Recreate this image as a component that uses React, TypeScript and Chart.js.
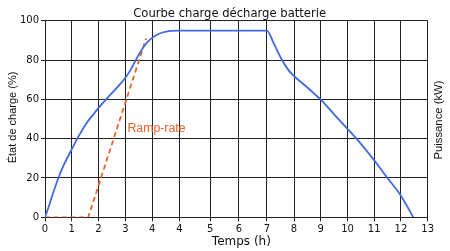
import React, { useEffect, useRef } from 'react';
import { Chart, registerables } from 'chart.js';

Chart.register(...registerables);

// ---- Texts ----
const chartTitle = 'Courbe charge décharge batterie';
const xAxisTitle = 'Temps (h)';
const yAxisTitle = 'État de charge (%)';
const y2AxisTitle = 'Puissance (kW)';
const rampLabel = 'Ramp-rate';

// ---- X axis ticks (grid positions on the axis, and their printed labels) ----
const xTickValues = [0, 0.975, 1.953, 2.943, 3.921, 4.921, 6.046, 7.094, 8.12, 9.11, 10.088, 11.066, 12.041, 13.02, 14];
const xTickLabels = ['0', '1', '2', '3', '4', '4', '5', '6', '7', '8', '9', '10', '11', '12', '13'];
const yMin = 0;
const yMax = 100;
const yStep = 20;

// ---- Series: state of charge (%) ----
const socX = [0, 0.15, 0.3, 0.49, 0.7, 0.975, 1.2, 1.5, 1.75, 1.953, 2.3, 2.6, 2.943, 3.15, 3.4, 3.65, 3.85, 4.05, 4.3, 4.6, 4.921, 8.12, 8.35, 8.65, 8.9, 9.1, 9.6, 10.088, 10.6, 11.066, 11.55, 12.041, 12.5, 13.02, 13.47];
const socY = [0, 6, 12.5, 20, 27, 34.5, 40.5, 47.5, 52, 55.5, 61, 65.5, 71, 75.5, 82, 87.5, 90.5, 92.5, 94, 94.8, 95, 95, 89, 80.5, 75, 72, 66, 59.8, 52, 45, 37.5, 29, 20.5, 11, 0];

// ---- Series: ramp-rate (dashed) ----
const rampX = [0, 1.58, 3.7];
const rampY = [0, 0, 91];

// annotation anchor (data coords)
const rampLabelX = 3.016;
const rampLabelY = 43.2;

const BLUE = '#4169E1';
const ORANGE = '#E8622C';
const GRID = '#222222';
const TEXT = '#111111';

const textPlugin = {
  id: 'customTexts',
  afterDraw(chart: any) {
    const ctx = chart.ctx as CanvasRenderingContext2D;
    const area = chart.chartArea;
    const xs = chart.scales.x;
    const ys = chart.scales.y;
    ctx.save();
    ctx.fillStyle = TEXT;

    // title
    ctx.font = '11.6px "DejaVu Sans"';
    ctx.textAlign = 'center';
    ctx.textBaseline = 'alphabetic';
    ctx.fillText(chartTitle, (area.left + area.right) / 2 - 6.7, 16.7);

    // x title
    ctx.font = '12px "DejaVu Sans"';
    ctx.fillText(xAxisTitle, (area.left + area.right) / 2 + 5, 245);

    // left y title
    ctx.save();
    ctx.translate(12.7, (area.top + area.bottom) / 2 - 1.5);
    ctx.rotate(-Math.PI / 2);
    ctx.font = '11px "Liberation Sans"';
    ctx.textAlign = 'center';
    ctx.textBaseline = 'middle';
    ctx.fillText(yAxisTitle, 0, 0);
    ctx.restore();

    // right y title
    ctx.save();
    ctx.translate(439.3, (area.top + area.bottom) / 2 + 1);
    ctx.rotate(-Math.PI / 2);
    ctx.font = '11.3px "Liberation Sans"';
    ctx.textAlign = 'center';
    ctx.textBaseline = 'middle';
    ctx.fillText(y2AxisTitle, 0, 0);
    ctx.restore();

    // ramp-rate label
    ctx.fillStyle = ORANGE;
    ctx.font = '12.3px "Liberation Sans"';
    ctx.textAlign = 'left';
    ctx.textBaseline = 'alphabetic';
    ctx.fillText(rampLabel, xs.getPixelForValue(rampLabelX), ys.getPixelForValue(rampLabelY));

    ctx.restore();
  },
};

export default function App() {
  const canvasRef = useRef<HTMLCanvasElement | null>(null);

  useEffect(() => {
    const canvas = canvasRef.current;
    if (!canvas) return;
    const tickFont = { family: 'DejaVu Sans', size: 10 };
    const chart = new Chart(canvas, {
      type: 'line',
      data: {
        datasets: [
          {
            label: 'SOC',
            data: socX.map((x, i) => ({ x, y: socY[i] })),
            borderColor: BLUE,
            borderWidth: 1.8,
            pointRadius: 0,
            fill: false,
            cubicInterpolationMode: 'monotone',
          },
          {
            label: 'Ramp',
            data: rampX.map((x, i) => ({ x, y: rampY[i] })),
            borderColor: ORANGE,
            borderWidth: 1.8,
            borderDash: [5, 3.5],
            pointRadius: 0,
            fill: false,
            tension: 0,
          },
        ],
      },
      options: {
        animation: false,
        responsive: false,
        events: [],
        layout: { padding: { top: 20.7, right: 22.3, left: 0, bottom: 0 } },
        plugins: {
          legend: { display: false },
          title: { display: false },
          tooltip: { enabled: false },
        },
        scales: {
          x: {
            type: 'linear',
            min: 0,
            max: 14,
            afterBuildTicks: (s: any) => {
              s.ticks = xTickValues.map((v) => ({ value: v }));
            },
            afterFit: (s: any) => {
              s.height = 33.7;
            },
            ticks: {
              autoSkip: false,
              maxRotation: 0,
              padding: 2,
              color: TEXT,
              font: tickFont,
              callback: (_v: any, i: number) => xTickLabels[i] ?? '',
            },
            grid: { color: GRID, lineWidth: 1, tickLength: 4 },
            border: { color: GRID, width: 1 },
          },
          y: {
            type: 'linear',
            min: yMin,
            max: yMax,
            afterFit: (s: any) => {
              s.width = 45;
            },
            ticks: { stepSize: yStep, padding: 2, color: TEXT, font: tickFont },
            grid: { color: GRID, lineWidth: 1, tickLength: 4 },
            border: { color: GRID, width: 1 },
          },
        },
      },
      plugins: [textPlugin],
    } as any);
    return () => chart.destroy();
  }, []);

  return (
    <div style={{ position: 'absolute', left: 0, top: 0, width: 450, height: 251, background: '#fff' }}>
      <canvas ref={canvasRef} width={450} height={251} style={{ width: 450, height: 251 }} />
    </div>
  );
}
